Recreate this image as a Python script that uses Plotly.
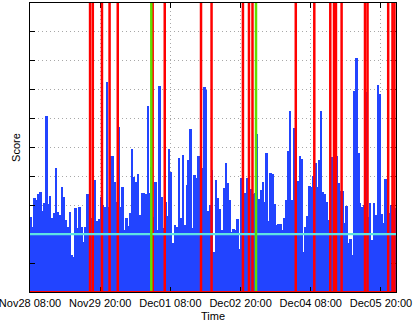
import plotly.graph_objects as go
import pandas as pd

# ---- data ----
start_time = "2015-11-28 08:00"
scores = [
    2.6, 2.26, 3.26, 3.18, 3.4, 3.46, 2.8, 3.07, 6.1, 3.05, 3.32, 2.56, 2.73, 4.28, 2.77, 2.66,
    3.64, 3.3, 2.49, 2.26, 2.77, 1.28, 1.22, 2.92, 2.2, 2.95, 2.26, 1.74, 2.26, 3.39, 1.7,
    2.56, 3.0, 3.87, 2.47, 2.53, 3.28, 3.0, 2.95, 7.27, 2.94, 4.72, 4.72, 3.82, 3.12, 5.72,
    2.95, 3.62, 2.14, 2.57, 2.28, 2.72, 4.94, 3.99, 3.8, 4.08, 2.66, 3.41, 3.41, 3.4, 6.45,
    3.43, 4.34, 2.6, 3.82, 2.14, 7.13, 3.28, 2.2, 3.1, 2.64, 4.94, 4.16, 1.71, 2.32, 2.26,
    4.65, 2.55, 4.74, 2.32, 3.7, 4.57, 5.63, 2.2, 4.05, 3.93, 4.71, 3.18, 4.28, 7.08, 7.0,
    2.8, 3.0, 4.22, 1.39, 3.87, 3.24, 2.86, 2.14, 3.61, 4.47, 3.76, 3.2, 2.09, 2.17, 2.14,
    2.51, 1.48, 3.93, 3.0, 3.41, 3.95, 3.5, 3.55, 3.4, 3.41, 5.47, 3.22, 3.53, 3.82, 3.12,
    4.82, 2.47, 4.13, 4.1, 3.05, 2.32, 2.35, 2.35, 2.14, 2.55, 3.2, 4.88, 6.26, 3.18, 5.66,
    3.5, 3.84, 4.71, 4.59, 1.39, 2.26, 2.63, 3.67, 3.64, 4.0, 4.45, 3.62, 4.57, 6.27, 3.47,
    3.38, 3.1, 2.5, 4.68, 4.68, 4.68, 4.71, 3.78, 3.5, 3.51, 2.38, 2.98, 1.71, 1.82, 1.28,
    6.96, 8.09, 4.8, 3.07, 2.93, 3.0, 6.91, 2.6, 3.07, 1.8, 3.07, 2.66, 7.18, 6.84, 2.7,
    2.38, 3.9, 3.0, 2.72, 3.0, 3.0, 2.9,
]
red_events = [
    "2015-11-29 14:48", "2015-11-29 16:12", "2015-11-29 20:54", "2015-11-30 00:48",
    "2015-11-30 05:00", "2015-11-30 22:54", "2015-12-01 05:06", "2015-12-01 23:42",
    "2015-12-02 05:06", "2015-12-02 21:12", "2015-12-03 00:18", "2015-12-03 02:06",
    "2015-12-04 00:18", "2015-12-04 09:48", "2015-12-04 18:00", "2015-12-04 19:54",
    "2015-12-04 20:54", "2015-12-04 23:48", "2015-12-05 11:48", "2015-12-05 13:06",
    "2015-12-05 23:42", "2015-12-06 01:54", "2015-12-06 02:54",
]
green_events = ["2015-11-30 22:12", "2015-12-03 03:54"]
threshold = 2.0
baseline = 0.0
tick_times = ["2015-11-28 08:00", "2015-11-29 20:00", "2015-12-01 08:00",
              "2015-12-02 20:00", "2015-12-04 08:00", "2015-12-05 20:00"]
tick_labels = ["Nov28 08:00", "Nov29 20:00", "Dec01 08:00",
               "Dec02 20:00", "Dec04 08:00", "Dec05 20:00"]
x_start = "2015-11-28 07:59:30"
x_end = "2015-12-06 03:42"

# ---- figure ----
t0 = pd.Timestamp(start_time)
bar_x = [t0 + pd.Timedelta(hours=i + 0.5) for i in range(len(scores))]

fig = go.Figure()
fig.add_trace(go.Bar(
    x=bar_x, y=scores, width=3600000,
    marker=dict(color="#2244ff", line=dict(width=0)),
    showlegend=False, hoverinfo="skip",
))

shapes = []
for t in red_events:
    shapes.append(dict(type="line", xref="x", yref="paper", x0=t, x1=t, y0=0, y1=1,
                       line=dict(color="#ff0000", width=2.5)))
shapes.append(dict(type="line", xref="paper", yref="y", x0=0, x1=1, y0=threshold, y1=threshold,
                   line=dict(color="#5fe3e3", width=2.2)))
for t in green_events:
    shapes.append(dict(type="line", xref="x", yref="paper", x0=t, x1=t, y0=0, y1=1,
                       line=dict(color="#5fe000", width=2.5)))
shapes.append(dict(type="line", xref="paper", yref="y", x0=0, x1=1, y0=baseline, y1=baseline,
                   line=dict(color="#ff0000", width=2)))

fig.update_layout(
    width=415, height=327,
    margin=dict(l=30, r=19, t=3, b=35, autoexpand=False),
    paper_bgcolor="white", plot_bgcolor="white",
    bargap=0,
    font=dict(family="Liberation Sans, Arial, sans-serif", size=11, color="black"),
    shapes=shapes,
    xaxis=dict(
        type="date", range=[x_start, x_end], automargin=False,
        tickvals=tick_times, ticktext=tick_labels, ticklabeloverflow="allow",
        ticklabelstandoff=1,
        ticks="inside", ticklen=5, tickcolor="black",
        showline=True, linecolor="black", linewidth=1, mirror="ticks",
        showgrid=True, gridcolor="#a8a8a8", griddash="1px,3px", gridwidth=1,
        zeroline=False,
        title=dict(text="Time", standoff=4, font=dict(size=11)),
    ),
    yaxis=dict(
        range=[0, 10], dtick=1, showticklabels=False, automargin=False,
        ticks="inside", ticklen=5, tickcolor="black",
        showline=True, linecolor="black", linewidth=1, mirror="ticks",
        showgrid=True, gridcolor="#a8a8a8", griddash="1px,3px", gridwidth=1,
        zeroline=False,
        title=dict(text="Score", standoff=6, font=dict(size=11)),
    ),
)

fig.write_html("out.html", config={"displayModeBar": False},
               post_script="document.body.style.margin='0';")
